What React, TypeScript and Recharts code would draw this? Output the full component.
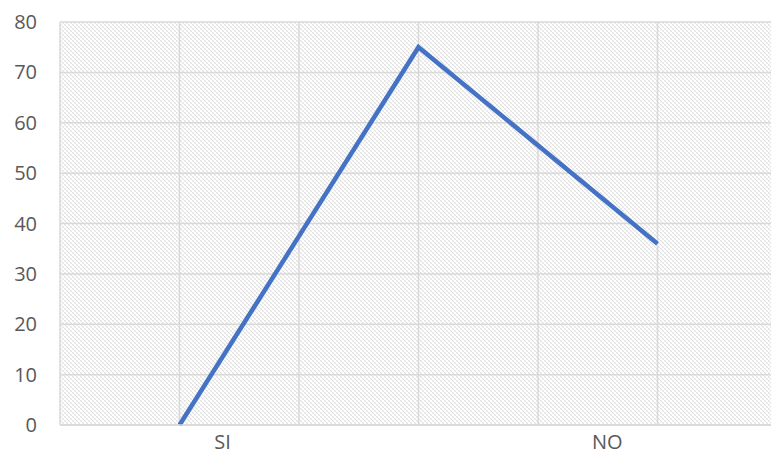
import {
  ComposedChart,
  Line,
  XAxis,
  YAxis,
  CartesianGrid,
  ReferenceLine,
} from "recharts";

// series points along the category axis
const xPositions = [1, 3, 5];
const values = [0, 75, 36];

// category labels and where they sit on the axis
const categories = ["SI", "NO"];
const categoryPositions = [1.36, 4.58];

const yTicks = [0, 10, 20, 30, 40, 50, 60, 70, 80];
const gridTicks = [0, 1, 2, 3, 4, 5];

const data = xPositions.map((x, i) => ({ x, value: values[i] }));

const labelFor = (v: number) => {
  const i = categoryPositions.findIndex((p) => Math.abs(p - v) < 0.01);
  return i >= 0 ? categories[i] : "";
};

export default function App() {
  const tickStyle = { fill: "#595959", fontSize: 20, fontFamily: "Open Sans" };
  return (
    <div style={{ position: "absolute", left: 0, top: 0, background: "#fff" }}>
      <ComposedChart
        width={771}
        height={456}
        data={data}
        margin={{ top: 22, right: 0, bottom: 0, left: 0 }}
      >
        <defs>
          <pattern id="hatch" width="4" height="4" patternUnits="userSpaceOnUse">
            <rect width="4" height="4" fill="#ffffff" />
            <rect x="0" y="0" width="1.4" height="1.4" fill="#dedede" />
            <rect x="2" y="2" width="1.4" height="1.4" fill="#dedede" />
            <rect x="1" y="1" width="1" height="1" fill="#e6e6e6" />
            <rect x="3" y="3" width="1" height="1" fill="#e6e6e6" />
          </pattern>
        </defs>
        <CartesianGrid
          fill="url(#hatch)"
          fillOpacity={1}
          stroke="#d9d9d9"
          strokeWidth={1.5}
          vertical={false}
        />
        {gridTicks.map((t) => (
          <ReferenceLine
            key={t}
            x={t}
            stroke="#d9d9d9"
            strokeWidth={1.5}
            ifOverflow="extendDomain"
          />
        ))}
        <XAxis
          dataKey="x"
          type="number"
          domain={[0, 5.95]}
          ticks={categoryPositions}
          tickFormatter={labelFor}
          allowDataOverflow
          tick={tickStyle}
          tickLine={false}
          tickSize={0}
          tickMargin={10}
          axisLine={{ stroke: "#d9d9d9", strokeWidth: 1.5 }}
          height={31}
          interval={0}
        />
        <YAxis
          domain={[0, 80]}
          ticks={yTicks}
          tick={{ ...tickStyle, textAnchor: "end" }}
          tickLine={false}
          axisLine={false}
          tickSize={0}
          tickMargin={23}
          width={60}
          interval={0}
        />
        <Line
          dataKey="value"
          stroke="#4472C4"
          strokeWidth={4.5}
          dot={false}
          isAnimationActive={false}
        />
      </ComposedChart>
    </div>
  );
}
